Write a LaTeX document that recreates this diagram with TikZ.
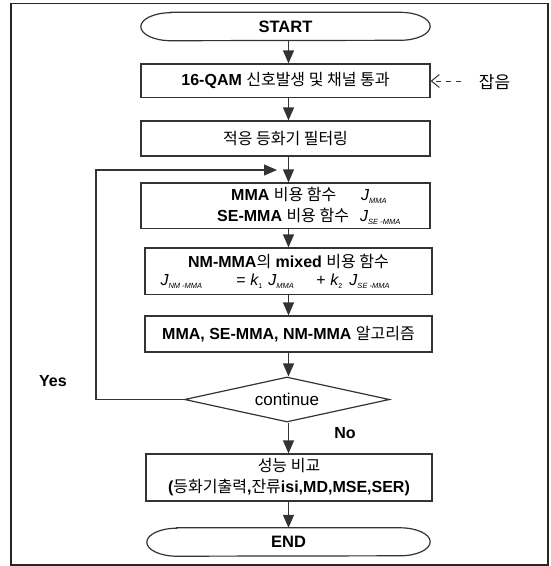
\documentclass[tikz,border=0pt]{standalone}
\usepackage{fontspec}
\setmainfont{Liberation Sans}
\newfontfamily\korfont{Noto Sans CJK KR}
\usetikzlibrary{arrows.meta,calc,shapes.geometric}
\newcommand\kor[1]{{\korfont\mdseries #1}}
\newcommand\Jsub[1]{{\fontsize{16}{16}\selectfont\mdseries\itshape J}\raisebox{-2.5pt}{\fontsize{7.5}{7.5}\selectfont\mdseries\itshape #1}}
\newcommand\ksub[1]{{\fontsize{16}{16}\selectfont\mdseries\itshape k}\raisebox{-2.5pt}{\fontsize{7}{7}\selectfont\mdseries #1}}
\tikzset{
  lin/.style={draw=black!80, line width=1.2pt},
  box/.style={lin, rectangle, inner sep=0pt, font=\fontsize{16}{21}\selectfont\bfseries, align=center},
  term/.style={rectangle, inner sep=0pt, minimum width=#1, minimum height=28pt, font=\fontsize{16.5}{21}\selectfont\bfseries},
  txt/.style={inner sep=0pt, font=\fontsize{16}{21}\selectfont\bfseries, align=center},
  arr/.style={lin, -{Triangle[length=13pt,width=11pt]}},
  noisearr/.style={draw=black!80, line width=1pt, dash pattern=on 5pt off 5pt, -{Straight Barb[length=8pt,width=13pt]}},
}
\begin{document}
\begin{tikzpicture}[x=1pt,y=-1pt]
\useasboundingbox (0,0) rectangle (551,566);
% frame
\draw[draw=black!85, line width=1.4pt] (11,3.5) rectangle (548,565);

% START
\node[term=289pt] (start) at (285.5,26.5) {START};
\draw[lin] ($(start.north west)+(30pt,0)$) -- ($(start.north east)+(-30pt,0)$)
  arc[start angle=90,end angle=-90,x radius=30pt,y radius=14pt]
  -- ($(start.south west)+(30pt,0)$)
  arc[start angle=270,end angle=90,x radius=30pt,y radius=14pt] -- cycle;

\node[box, minimum width=289pt, minimum height=33.5pt] (b1) at (285.5,80.75)
  {16-QAM \kor{신호발생 및 채널 통과}};
\node[box, minimum width=289pt, minimum height=35pt] (b2) at (285.5,138.5)
  {\kor{적응 등화기 필터링}};
\node[box, minimum width=289pt, minimum height=45.5pt] (b3) at (285.5,205.75) {};
\node[txt, anchor=west, align=left] (b3t) at (217,205.75)
  {\hspace*{14pt}\makebox[130pt][l]{MMA \kor{비용 함수}}\Jsub{MMA}\\
   \makebox[143pt][l]{SE-MMA \kor{비용 함수}}\Jsub{SE -MMA}};
\node[box, minimum width=287pt, minimum height=46.6pt] (b4) at (288.5,271.3) {};
\node[txt, font=\fontsize{16}{18}\selectfont\bfseries] (b4t) at (288.5,271.3)
  {NM-MMA\kor{의} mixed \kor{비용 함수}\\
   \makebox[256pt][l]{\makebox[76pt][l]{\Jsub{NM -MMA}}\makebox[14pt][l]{\mdseries =}\makebox[18pt][l]{\ksub{1}}\makebox[48pt][l]{\Jsub{MMA}}\makebox[14pt][l]{\mdseries +}\makebox[19pt][l]{\ksub{2}}\Jsub{SE -MMA}}};
\node[box, minimum width=287pt, minimum height=36pt] (b5) at (288.5,334)
  {MMA, SE-MMA, NM-MMA \kor{알고리즘}};
\node[lin, diamond, aspect=4.56, inner sep=0pt, minimum width=205pt, minimum height=45pt,
  font=\fontsize{17}{20}\selectfont] (dia) at (287,399.5) {continue};
\node[box, minimum width=286pt, minimum height=47pt] (b6) at (289,477.5)
  {\kor{성능 비교}\\(\kor{등화기출력},\kor{잔류}isi,MD,MSE,SER)};

% END
\node[term=283pt] (end) at (288.5,542) {END};
\draw[lin] ($(end.north west)+(30pt,0)$) -- ($(end.north east)+(-30pt,0)$)
  arc[start angle=90,end angle=-90,x radius=30pt,y radius=14pt]
  -- ($(end.south west)+(30pt,0)$)
  arc[start angle=270,end angle=90,x radius=30pt,y radius=14pt] -- cycle;

% arrows
\draw[arr] (start.south -| b5.north) -- (b1.north -| b5.north);
\draw[arr] (b1.south -| b5.north) -- (b2.north -| b5.north);
\draw[arr] (b2.south -| b5.north) -- (b3.north -| b5.north);
\draw[arr] (b3.south -| b5.north) -- (b4.north -| b5.north);
\draw[arr] (b4.south -| b5.north) -- (b5.north);
\draw[arr] (b5.south) -- (dia.north -| b5.south);
\draw[arr] (dia.south -| b5.south) -- (b6.north -| b5.south);
\draw[arr] (b6.south -| b5.south) -- (end.north -| b5.south);

% loop
\coordinate (lp) at (96,170);
\coordinate (lt) at (277,170);
\draw[arr] (dia.west) -| (lp) -- (lt);
\node[txt] (yes) at (53,381) {Yes};
\node[txt] (no) at (345,433) {No};

% noise
\coordinate (ns) at (461,81);
\draw[noisearr] (ns) -- (ns -| b1.east);
\node[txt, font=\fontsize{17}{20}\selectfont] (noise) at (494.5,82) {\kor{잡음}};
\end{tikzpicture}
\end{document}
